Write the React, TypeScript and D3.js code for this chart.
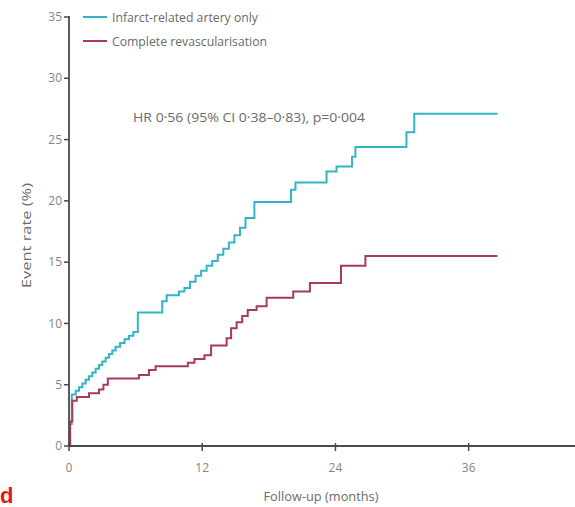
import React from 'react';
import * as d3 from 'd3';

// month, cumulative event rate (%)
const iraMonths = [0, 0.1, 0.25, 0.6, 0.9, 1.2, 1.5, 1.8, 2.1, 2.4, 2.7, 3.0, 3.3, 3.6, 3.9, 4.2, 4.6, 5.0, 5.4, 5.8, 6.2, 8.4, 8.8, 9.9, 10.4, 10.9, 11.4, 11.9, 12.4, 12.9, 13.4, 13.9, 14.4, 14.9, 15.4, 15.9, 16.7, 20.0, 20.4, 23.2, 24.1, 25.5, 25.8, 30.4, 31.1, 38.6];
const iraRates = [0, 1.8, 4.2, 4.5, 4.8, 5.1, 5.4, 5.7, 6.0, 6.3, 6.6, 6.9, 7.2, 7.5, 7.8, 8.1, 8.4, 8.7, 9.0, 9.3, 10.9, 11.8, 12.3, 12.6, 12.9, 13.4, 13.9, 14.3, 14.7, 15.1, 15.6, 16.1, 16.6, 17.2, 17.8, 18.6, 19.9, 20.9, 21.5, 22.4, 22.8, 23.6, 24.4, 25.6, 27.1, 27.1];

const crMonths = [0, 0.1, 0.3, 0.7, 1.8, 2.7, 3.1, 3.5, 6.3, 7.2, 7.8, 10.7, 11.3, 12.2, 12.8, 14.2, 14.6, 15.1, 15.6, 16.1, 16.9, 17.8, 20.2, 21.7, 24.5, 26.7, 38.6];
const crRates = [0, 2.0, 3.7, 4.0, 4.3, 4.6, 5.0, 5.5, 5.8, 6.2, 6.5, 6.8, 7.1, 7.4, 8.2, 8.8, 9.6, 10.1, 10.6, 11.1, 11.4, 12.1, 12.6, 13.3, 14.7, 15.5, 15.5];

const yTicks = [0, 5, 10, 15, 20, 25, 30, 35];
const xTicks = [0, 12, 24, 36];

const seriesNames = ['Infarct-related artery only', 'Complete revascularisation'];
const seriesColors = ['#33b4c6', '#a83a5e'];
const legendWidths = [146, 155]; // measured text widths in the reference
const annotation = 'HR 0·56 (95% CI 0·38–0·83), p=0·004';

const font = '"Liberation Sans Narrow", "Open Sans", sans-serif';
const textColor = '#6a6a6a';
const tickColor = '#858585';
const axisColor = '#4a4a4a';

const App = () => {
  const width = 575;
  const height = 507;

  const x = d3.scaleLinear().domain([0, 45.4]).range([69, 573]);
  const y = d3.scaleLinear().domain([0, 35]).range([446, 17]);

  const line = d3.line<[number, number]>()
    .x(d => x(d[0]))
    .y(d => y(d[1]))
    .curve(d3.curveStepAfter);

  const series = [
    iraMonths.map((m, i) => [m, iraRates[i]] as [number, number]),
    crMonths.map((m, i) => [m, crRates[i]] as [number, number]),
  ];

  return (
    <svg
      width={width}
      height={height}
      style={{ position: 'absolute', left: 0, top: 0, background: '#fff' }}
      fontFamily={font}
    >
      {/* curves */}
      {series.map((s, i) => (
        <path key={i} d={line(s) || ''} fill="none" stroke={seriesColors[i]} strokeWidth={2} />
      ))}

      {/* y axis */}
      <line x1={x(0)} x2={x(0)} y1={y(0)} y2={y(35) - 1} stroke={axisColor} strokeWidth={1.8} />
      {yTicks.map(t => (
        <g key={t} transform={`translate(0,${y(t)})`}>
          <line x1={x(0) - 5} x2={x(0)} stroke={axisColor} strokeWidth={1.5} />
          <text x={x(0) - 7} dy="0.35em" textAnchor="end" fontSize={12} fill={tickColor}>{t}</text>
        </g>
      ))}
      <text
        transform={`translate(31,${(y(0) + y(35)) / 2 + 4}) rotate(-90)`}
        textAnchor="middle"
        fontSize={12}
        fill={textColor}
        textLength={105}
        lengthAdjust="spacingAndGlyphs"
      >Event rate (%)</text>

      {/* x axis */}
      <line x1={x(0)} x2={width} y1={y(0)} y2={y(0)} stroke={axisColor} strokeWidth={1.8} />
      {xTicks.map(t => (
        <g key={t} transform={`translate(${x(t)},${y(0)})`}>
          <line y1={-3} y2={5} stroke={axisColor} strokeWidth={1.5} />
          <text y={26} textAnchor="middle" fontSize={12} fill={tickColor}>{t}</text>
        </g>
      ))}
      <text x={321} y={501} textAnchor="middle" fontSize={12} fill={textColor} textLength={115} lengthAdjust="spacingAndGlyphs">Follow-up (months)</text>

      {/* legend */}
      {seriesNames.map((n, i) => (
        <g key={n} transform={`translate(83,${17 + i * 24})`}>
          <line x1={0} x2={24} stroke={seriesColors[i]} strokeWidth={2} />
          <text x={29} dy="0.35em" fontSize={13} fill={textColor} textLength={legendWidths[i]} lengthAdjust="spacingAndGlyphs">{n}</text>
        </g>
      ))}

      <text x={133} y={122} fontSize={13} fill={textColor} textLength={232} lengthAdjust="spacingAndGlyphs">{annotation}</text>

      <text x={0} y={503} fontSize={22} fontWeight="bold" fill="#e8141b" fontFamily="Liberation Sans, Arial, sans-serif">d</text>
    </svg>
  );
};

export default App;
